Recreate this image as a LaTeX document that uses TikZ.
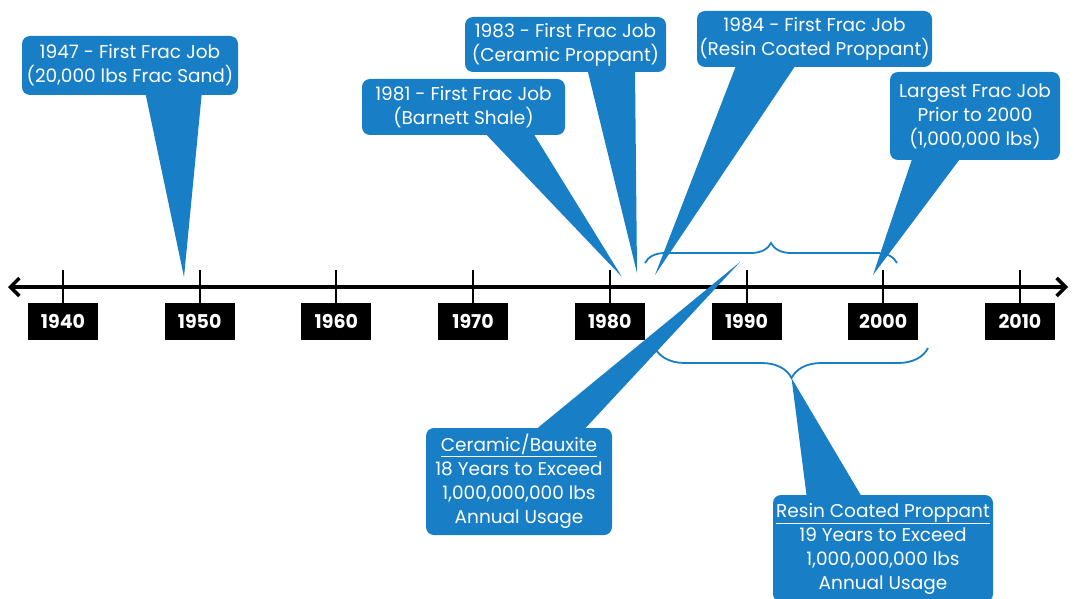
\documentclass[tikz,border=0pt]{standalone}
\usepackage{fontspec}
\setmainfont{Poppins}
\usetikzlibrary{arrows.meta,decorations.pathreplacing,positioning}
\definecolor{callblue}{RGB}{24,126,197}
\tikzset{
  callbox/.style={fill=callblue, text=white, rounded corners=8pt, align=center,
    inner sep=0pt, font=\fontsize{18.5}{24}\selectfont},
  yearbox/.style={fill=black, text=white, minimum width=70pt, minimum height=37pt,
    inner sep=0pt, font=\fontsize{19}{19}\selectfont\bfseries},
  tickline/.style={line width=2pt},
  timeline/.style={line width=3.5pt,
    {Straight Barb[length=9pt,width=18pt]}-{Straight Barb[length=9pt,width=18pt]}},
  bracket/.style={draw=callblue, line width=1.8pt, decorate,
    decoration={brace, amplitude=#1}},
  pointer/.style={fill=callblue}
}
\begin{document}
\begin{tikzpicture}[x=1pt,y=-1pt]
\useasboundingbox (0,0) rectangle (1074,599);
\clip (0,0) rectangle (1074,599);

% time axis
\coordinate (lend) at (8,287);
\coordinate (rend) at (1068,287);
\draw[timeline] (lend) -- (rend);
\foreach \yr [count=\i from 0] in {1940,1950,...,2010} {
  \node[yearbox] (y\yr) at ({63+136.7*\i},321.5) {\yr};
  \draw[tickline] (y\yr.north) -- ++(0,-33);
}

% braces
\draw[bracket=20pt] (645,263) -- (897,263);
\draw[bracket=30pt] (928,348) -- (655,348);
\coordinate (lowtip) at (791.5,378);

% callouts above the axis
\node[callbox, minimum width=216pt, minimum height=59pt] (c1947) at (130,65.5)
  {1947 - First Frac Job\\(20,000 lbs Frac Sand)};
\coordinate (t1947) at (184,277);
\fill[pointer] ([xshift=15,yshift=4]c1947.south) -- (t1947) -- ([xshift=72,yshift=4]c1947.south) -- cycle;

\node[callbox, minimum width=203pt, minimum height=56pt] (c1981) at (463.5,107)
  {1981 - First Frac Job\\(Barnett Shale)};
\coordinate (t1981) at (622,277);
\fill[pointer] ([xshift=19.5,yshift=4]c1981.south) -- (t1981) -- ([xshift=68.5,yshift=4]c1981.south) -- cycle;

\node[callbox, minimum width=201pt, minimum height=55pt] (c1983) at (565.5,44.5)
  {1983 - First Frac Job\\(Ceramic Proppant)};
\coordinate (t1983) at (637,273);
\fill[pointer] ([xshift=21.5,yshift=4]c1983.south) -- (t1983) -- ([xshift=69.5,yshift=4]c1983.south) -- cycle;

\node[callbox, minimum width=235pt, minimum height=56pt] (c1984) at (814.5,39)
  {1984 - First Frac Job\\(Resin Coated Proppant)};
\coordinate (t1984) at (655,275);
\fill[pointer] ([xshift=-77.5,yshift=4]c1984.south) -- (t1984) -- ([xshift=-17.5,yshift=4]c1984.south) -- cycle;

\node[callbox, minimum width=170pt, minimum height=88pt] (clarge) at (975,116)
  {Largest Frac Job\\Prior to 2000\\(1,000,000 lbs)};
\coordinate (tlarge) at (873,275);
\fill[pointer] ([xshift=-62,yshift=4]clarge.south) -- (tlarge) -- ([xshift=-13,yshift=4]clarge.south) -- cycle;

% callouts below the axis
\node[callbox, minimum width=186pt, minimum height=107pt] (cceram) at (519,481.5)
  {\underline{Ceramic/Bauxite}\\18 Years to Exceed\\1,000,000,000 lbs\\Annual Usage};
\coordinate (tceram) at (740,262);
\fill[pointer] ([xshift=14,yshift=-4]cceram.north) -- (tceram) -- ([xshift=63,yshift=-4]cceram.north) -- cycle;

\node[callbox, minimum width=220pt, minimum height=107pt] (cresin) at (883,548.5)
  {\underline{Resin Coated Proppant}\\19 Years to Exceed\\1,000,000,000 lbs\\Annual Usage};
\fill[pointer] ([xshift=-76,yshift=-4]cresin.north) -- (lowtip) -- ([xshift=-20,yshift=-4]cresin.north) -- cycle;
\end{tikzpicture}
\end{document}
